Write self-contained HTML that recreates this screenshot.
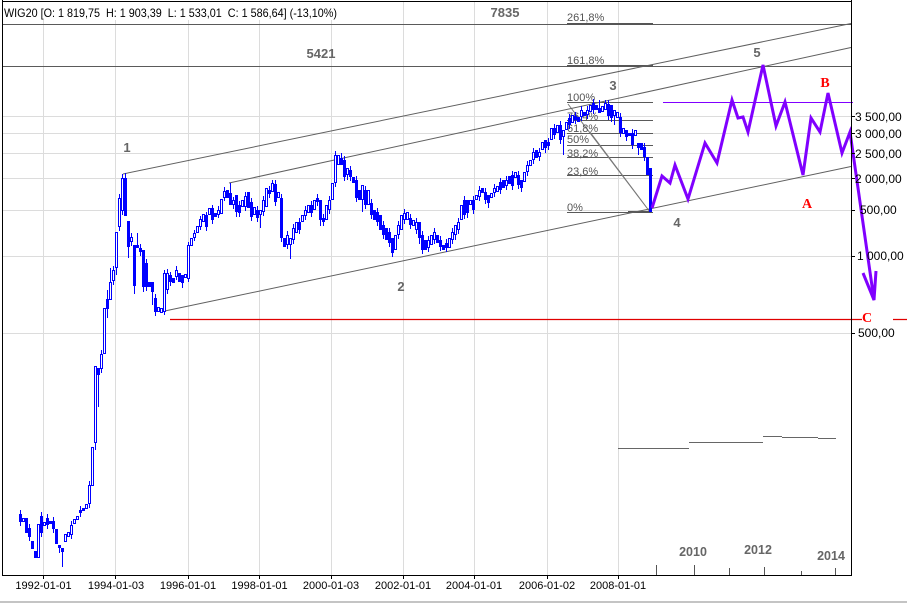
<!DOCTYPE html>
<html><head><meta charset="utf-8"><style>
html,body{margin:0;padding:0;background:#fff;}
svg{display:block;font-family:"Liberation Sans",Arial,sans-serif;}
</style></head><body>
<svg width="907" height="609" viewBox="0 0 907 609" xmlns="http://www.w3.org/2000/svg">
<rect x="0" y="0" width="907" height="609" fill="#fff"/>
<!-- grid -->
<g stroke="#dcdcdc" stroke-width="1">
<path d="M43.5,2V575M115.5,2V575M188.5,2V575M259.5,2V575M331.5,2V575M403.5,2V575M474.5,2V575M547.5,2V575M618.5,2V575"/>
<path d="M3,116.5H851M3,133.5H851M3,153.5H851M3,178.5H851M3,210.5H851M3,256.5H851M3,333.5H851"/>
</g>
<!-- header -->
<rect x="3" y="2" width="337" height="18" fill="#fff"/>
<text x="4" y="17" font-size="12" fill="#000" textLength="333" lengthAdjust="spacingAndGlyphs" xml:space="preserve">WIG20 [O: 1 819,75  H: 1 903,39  L: 1 533,01  C: 1 586,64] (-13,10%)</text>
<!-- level lines -->
<g stroke="#5a5a5a" stroke-width="1">
<path d="M3,24.5H851M3,66.5H851"/>
<path d="M567,102.5H653M567,120.5H653M567,133.5H653M567,145.5H653M567,157.5H653M567,175.5H653M567,212.5H653"/>
<path d="M568,104L650,212M590,132L650,212" stroke="#777"/>
</g>
<g stroke="#555" stroke-width="2"><path d="M567,24H653M567,66H653M628,212H652"/></g>
<g font-size="11" fill="#555">
<text x="567" y="21">261,8%</text>
<text x="567" y="64">161,8%</text>
<text x="567" y="101">100%</text>
<text x="567" y="120">76,4%</text>
<text x="567" y="132">61,8%</text>
<text x="567" y="143">50%</text>
<text x="567" y="157">38,2%</text>
<text x="567" y="175">23,6%</text>
<text x="567" y="211">0%</text>
</g>
<!-- bottom gray segments -->
<path d="M618,448.5H689M689,442.5H763M763,436.5H782M782,437.5H818M818,438.5H836" stroke="#666" stroke-width="1" fill="none"/>
<!-- channel lines -->
<g stroke="#606060" stroke-width="1" fill="none">
<path d="M123,174L851,23.5"/>
<path d="M229,183L851,47.5"/>
<path d="M160,312L851,166.5"/>
</g>
<!-- candles -->
<path fill="none" stroke="#0000ff" stroke-width="1" d="M62.5,548V567M98.5,375V407M107.5,290V318M110.5,268V282M125.5,173V178M128.5,247V258M134.5,286V294M137.5,233V245M152.5,292V305M230.5,183V193M260.5,215V228M272.5,180V183M290.5,245V259M341.5,153V158M362.5,200V212M392.5,253V257M563.5,137V155M599.5,100V108M605.5,100V103M614.5,116V125M638.5,148V155M95.5,443V450M143.5,287V292M116.5,268V275M347.5,175V180M419.5,238V244M455.5,235V240M467.5,213V218M488.5,203V208M521.5,188V192M545.5,148V153M611.5,118V122M626.5,137V141M320.5,220V226M236.5,212V217M182.5,283V288M59.5,548V553
M164.5,270V315M170.5,272V286M176.5,266V280M188.5,242V282M194.5,230V241M200.5,216V230M206.5,212V231M212.5,205V224M218.5,206V218M224.5,187V201M233.5,197V209M239.5,201V217M245.5,192V211M251.5,198V221M257.5,206V222M263.5,196V216M269.5,186V198M275.5,180V206M281.5,194V242M287.5,231V249M293.5,224V244M299.5,218V234M305.5,206V220M311.5,201V217M317.5,194V206M323.5,214V226M329.5,196V214M335.5,151V187M344.5,156V181M350.5,166V181M356.5,176V202M365.5,186V209M371.5,199V219M377.5,208V226M383.5,221V239M389.5,228V247M398.5,221V239M404.5,209V224M410.5,214V229M416.5,218V234M422.5,231V254M428.5,236V252M434.5,228V244M440.5,236V251M446.5,239V252M452.5,228V244M458.5,218V234M464.5,196V219M473.5,196V214M479.5,186V201M485.5,188V204M494.5,184V197M500.5,178V194M506.5,176V190M512.5,171V190M518.5,171V189M527.5,161V176M533.5,148V164M539.5,148V161M548.5,138V150M554.5,124V139M560.5,121V144M569.5,114V129M575.5,112V124M581.5,106V121M587.5,106V119M593.5,99V114M608.5,100V120M620.5,113V137M632.5,129V149M644.5,143V161
M20.5,510V526M29.5,524V541M41.5,512V537M47.5,514V529M53.5,517V533M71.5,521V539M80.5,506V517M89.5,481V508M101.5,350V373M113.5,266V285M119.5,194V231M122.5,174V215M131.5,233V246M140.5,244V256M146.5,259V291M155.5,294V316M167.5,269V294"/>
<path fill="none" stroke="#0000ff" stroke-width="3" d="M20.5,514V522M23.5,518V522M26.5,518V533M29.5,528V537M32.5,541V549M35.5,551V558M38.5,524V558M41.5,516V533M44.5,522V526M47.5,518V525M50.5,521V524M53.5,521V529M56.5,529V544M59.5,545V548M62.5,548V552M65.5,534V542M68.5,532V537M71.5,525V535M74.5,519V524M77.5,516V520M80.5,510V513M83.5,508V511M86.5,504V509M89.5,485V504M92.5,447V486M95.5,366V443M98.5,368V375M101.5,354V369M104.5,308V354M107.5,299V309M110.5,282V300M113.5,270V281M116.5,232V268M119.5,198V227M122.5,178V211M125.5,178V216M128.5,221V247M131.5,237V242M134.5,245V286M137.5,245V248M140.5,248V252M143.5,250V287M146.5,263V287M149.5,282V287M152.5,282V292M155.5,298V312M158.5,307V312M161.5,308V313M164.5,273V312M167.5,273V290M170.5,275V282M173.5,278V283M176.5,270V277M179.5,273V282M182.5,275V283M185.5,274V278M188.5,245V279M191.5,238V246M194.5,233V238M197.5,226V233M200.5,219V227M203.5,214V222M206.5,215V227M209.5,208V215M212.5,208V220M215.5,213V217M218.5,210V215M221.5,199V214M224.5,191V198M227.5,190V198M230.5,193V205M233.5,200V205M236.5,195V212M239.5,205V213M242.5,200V207M245.5,196V207M248.5,192V208M251.5,202V217M254.5,207V215M257.5,210V218M260.5,210V215M263.5,200V212M266.5,188V207M269.5,190V194M272.5,183V192M275.5,184V202M278.5,192V198M281.5,198V238M284.5,238V247M287.5,235V245M290.5,238V245M293.5,228V240M296.5,222V233M299.5,222V230M302.5,215V222M305.5,210V216M308.5,205V213M311.5,205V213M314.5,200V210M317.5,198V202M320.5,200V220M323.5,218V222M326.5,205V220M329.5,200V210M332.5,183V200M335.5,155V183M338.5,155V165M341.5,158V165M344.5,160V177M347.5,168V175M350.5,170V177M353.5,177V183M356.5,180V198M359.5,190V200M362.5,185V200M365.5,190V205M368.5,190V205M371.5,203V215M374.5,210V220M377.5,212V222M380.5,215V230M383.5,225V235M386.5,228V240M389.5,232V243M392.5,238V253M395.5,235V250M398.5,225V235M401.5,215V230M404.5,213V220M407.5,212V220M410.5,218V225M413.5,220V226M416.5,222V230M419.5,222V238M422.5,235V250M425.5,240V250M428.5,240V248M431.5,235V245M434.5,232V240M437.5,235V243M440.5,240V247M443.5,245V250M446.5,243V248M449.5,238V248M452.5,232V240M455.5,225V235M458.5,222V230M461.5,205V220M464.5,200V215M467.5,200V213M470.5,200V205M473.5,200V210M476.5,195V200M479.5,190V197M482.5,188V193M485.5,192V200M488.5,195V203M491.5,193V198M494.5,188V193M497.5,186V192M500.5,182V190M503.5,180V188M506.5,180V186M509.5,176V184M512.5,175V186M515.5,172V178M518.5,175V185M521.5,180V188M524.5,172V182M527.5,165V172M530.5,160V166M533.5,152V160M536.5,150V158M539.5,152V157M542.5,142V150M545.5,140V148M548.5,142V146M551.5,128V140M554.5,128V135M557.5,125V133M560.5,125V140M563.5,130V137M566.5,122V130M569.5,118V125M572.5,115V123M575.5,116V120M578.5,117V122M581.5,110V117M584.5,112V116M587.5,110V115M590.5,105V112M593.5,103V110M596.5,105V110M599.5,108V113M602.5,106V112M605.5,103V110M608.5,104V116M611.5,105V118M614.5,110V116M617.5,112V118M620.5,117V133M623.5,128V134M626.5,130V137M629.5,133V136M632.5,133V145M635.5,130V136M638.5,143V148M641.5,143V150M644.5,147V157M647.5,157V175M650.5,168V212"/>
<path fill="none" stroke="#fff" stroke-width="1" d="M23.5,519V521M38.5,525V557M44.5,523V525M65.5,535V541M68.5,533V536M71.5,526V534M74.5,520V523M77.5,517V519M86.5,505V508M89.5,486V503M92.5,448V485M95.5,367V442M101.5,355V368M104.5,309V353M110.5,283V299M113.5,271V280M116.5,233V267M119.5,199V226M122.5,179V210M131.5,238V241M158.5,308V311M161.5,309V312M164.5,274V311M167.5,274V289M176.5,271V276M185.5,275V277M188.5,246V278M191.5,239V245M194.5,234V237M197.5,227V232M200.5,220V226M203.5,215V221M209.5,209V214M218.5,211V214M221.5,200V213M224.5,192V197M233.5,201V204M242.5,201V206M245.5,197V206M254.5,208V214M260.5,211V214M263.5,201V211M266.5,189V206M272.5,184V191M278.5,193V197M287.5,236V244M290.5,239V244M293.5,229V239M296.5,223V232M302.5,216V221M305.5,211V215M308.5,206V212M314.5,201V209M326.5,206V219M329.5,201V209M332.5,184V199M335.5,156V182M338.5,156V164M347.5,169V174M362.5,186V199M368.5,191V204M395.5,236V249M398.5,226V234M401.5,216V229M404.5,214V219M407.5,213V219M413.5,221V225M416.5,223V229M428.5,241V247M431.5,236V244M434.5,233V239M449.5,239V247M452.5,233V239M455.5,226V234M458.5,223V229M461.5,206V219M470.5,201V204M476.5,196V199M479.5,191V196M491.5,194V197M494.5,189V192M497.5,187V191M506.5,181V185M515.5,173V177M524.5,173V181M527.5,166V171M530.5,161V165M533.5,153V159M539.5,153V156M542.5,143V149M551.5,129V139M557.5,126V132M563.5,131V136M566.5,123V129M572.5,116V122M581.5,111V116M587.5,111V114M590.5,106V111M602.5,107V111M605.5,104V109M614.5,111V115M617.5,113V117M623.5,129V133M635.5,131V135"/>
<!-- red C line -->
<path d="M170,319.5H862M893,319.5H907" stroke="#e00000" stroke-width="1.2"/>
<!-- purple projection -->
<path d="M663,102.5H853" stroke="#8000ff" stroke-width="1"/>
<polyline fill="none" stroke="#8000ff" stroke-width="3" stroke-linejoin="miter" points="652,208 662,176 670,183 675,165 688,199 705,143 717,163 732,100 738,118 743,117 748,132 763,65 776,126 785,102 803,175 811,118 820,132 828,93 842,153 850,132 874,300"/>
<path fill="none" stroke="#8000ff" stroke-width="3" d="M863,273L874,300L876,271"/>
<!-- frame -->
<g stroke="#000" stroke-width="1" fill="none">
<path d="M2,1.5H852"/>
<path d="M2.5,0V576"/>
<path d="M851.5,0V576"/>
<path d="M2,575.5H852"/>
<path d="M43.5,575V579M115.5,575V579M188.5,575V579M259.5,575V579M331.5,575V579M403.5,575V579M474.5,575V579M547.5,575V579M618.5,575V579"/>
<path d="M851,116.5H855M851,133.5H855M851,153.5H855M851,178.5H855M851,210.5H855M851,256.5H855M851,333.5H855"/>
<path d="M656.5,565V575M694.5,565V575M729.5,568V575M764.5,567V575M801.5,571V575M835.5,568V575" stroke="#555"/>
</g>
<rect x="0" y="601" width="907" height="2" fill="#c4c4c4"/>
<!-- axis labels -->
<g font-size="11" fill="#000" text-anchor="middle">
<text x="43.5" y="589">1992-01-01</text>
<text x="116" y="589">1994-01-03</text>
<text x="188" y="589">1996-01-01</text>
<text x="259.5" y="589">1998-01-01</text>
<text x="331" y="589">2000-01-03</text>
<text x="403" y="589">2002-01-01</text>
<text x="474" y="589">2004-01-01</text>
<text x="547" y="589">2006-01-02</text>
<text x="618" y="589">2008-01-01</text>
</g>
<g font-size="12" fill="#000">
<text x="855" y="121">3 500,00</text>
<text x="855" y="138">3 000,00</text>
<text x="855" y="158">2 500,00</text>
<text x="855" y="183">2 000,00</text>
<text x="860" y="214">500,00</text>
<text x="857" y="260">1 000,00</text>
<text x="858" y="337">500,00</text>
</g>
<!-- wave labels -->
<g font-size="13" font-weight="bold" fill="#666" text-anchor="middle">
<text x="505" y="17">7835</text>
<text x="321" y="58">5421</text>
<text x="127" y="152">1</text>
<text x="401" y="291">2</text>
<text x="613" y="90">3</text>
<text x="677" y="227">4</text>
<text x="757" y="57">5</text>
<text x="693" y="556" font-size="12.5">2010</text>
<text x="758" y="554" font-size="12.5">2012</text>
<text x="831" y="560" font-size="12.5">2014</text>
</g>
<g font-family="'Liberation Serif',serif" font-size="14" font-weight="bold" fill="#f00" text-anchor="middle">
<text x="825" y="87">B</text>
<text x="807" y="208">A</text>
<text x="867" y="322">C</text>
</g>
</svg>
</body></html>
